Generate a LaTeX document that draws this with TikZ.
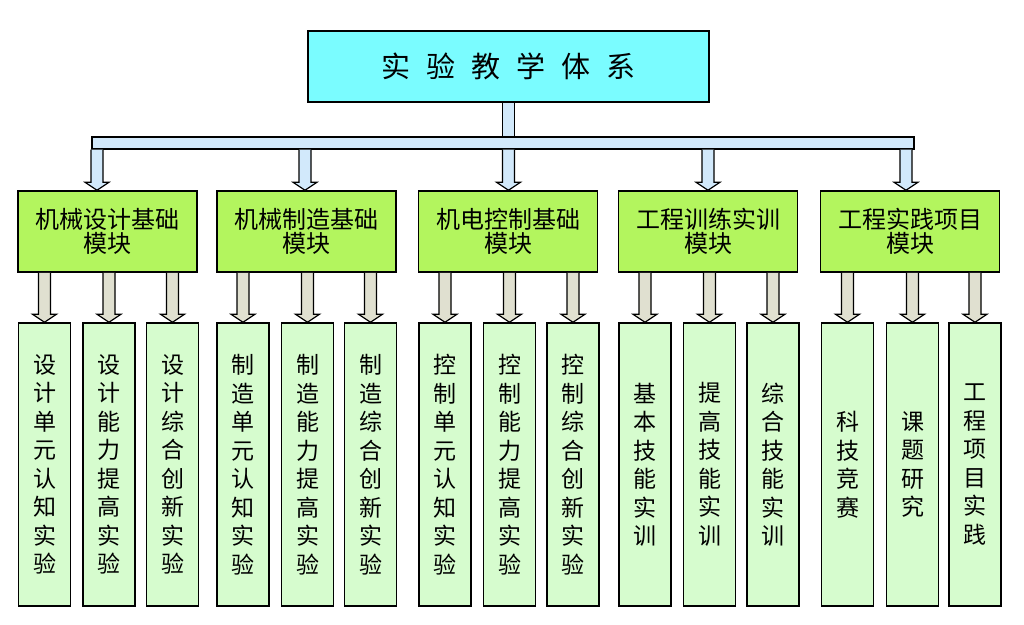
\documentclass[tikz,border=0pt]{standalone}
\usepackage{fontspec}
\setmainfont{Noto Sans CJK SC}
\usetikzlibrary{calc}
\definecolor{titlefill}{RGB}{122,252,255}
\definecolor{modfill}{RGB}{179,245,94}
\definecolor{leaffill}{RGB}{214,252,206}
\definecolor{barfill}{RGB}{210,233,251}
\definecolor{arrfill}{RGB}{224,224,208}
\newcommand\blockarr[3]{%
  \draw[blockarrow, fill=#3] let \p1=(#1), \p2=(#2) in
    (\x1-6pt,\y1) -- (\x1-6pt,\y2+8pt) -- (\x1-12pt,\y2+8pt) -- (\x1,\y2)
    -- (\x1+12pt,\y2+8pt) -- (\x1+6pt,\y2+8pt) -- (\x1+6pt,\y1);}
\tikzset{
  box/.style={draw=black, line width=1.5pt, rectangle, inner sep=0pt, align=center},
  titlebox/.style={box, fill=titlefill, minimum width=401pt, minimum height=71pt,
    font=\fontsize{29}{29}\selectfont},
  modbox/.style={box, fill=modfill, minimum width=179pt, minimum height=81pt,
    font=\fontsize{24}{24}\selectfont},
  leafbox/.style={box, fill=leaffill, minimum width=52pt, minimum height=283pt,
    font=\fontsize{23}{28.5}\selectfont},
  barbox/.style={draw=black, line width=1.3pt, fill=barfill, rectangle, inner sep=0pt,
    minimum width=822pt, minimum height=12pt},
  blockarrow/.style={draw=black, line width=1.2pt, line join=miter},
}
\begin{document}
\begin{tikzpicture}[x=1pt,y=-1pt]
\useasboundingbox (0,0) rectangle (1024,624);

% title and bar
\node[titlebox] (top) at (508.5,66.5) {实\hspace{16pt}验\hspace{16pt}教\hspace{16pt}学\hspace{16pt}体\hspace{16pt}系};
\node[barbox] (bar) at (503,143) {};
\draw[blockarrow, fill=barfill] ($(top.south)+(-6pt,0)$) rectangle ($(top.south |- bar.north)+(6pt,0)$);

% modules
\node[modbox] (mod1) at (107.5,231.5) {机械设计基础\\模块};
\node[modbox] (mod2) at (306.5,231.5) {机械制造基础\\模块};
\node[modbox] (mod3) at (508,231.5) {机电控制基础\\模块};
\node[modbox] (mod4) at (708,231.5) {工程训练实训\\模块};
\node[modbox] (mod5) at (910,231.5) {工程实践项目\\模块};

% drop points
\coordinate (d1) at (97,0);
\coordinate (d2) at (305,0);
\coordinate (d3) at (508.5,0);
\coordinate (d4) at (708,0);
\coordinate (d5) at (906,0);
\foreach \i in {1,...,5}{
  \blockarr{d\i |- bar.south}{d\i |- mod\i.north}{barfill}
}

% leaves
\node[leafbox] (leaf1) at (44.5,464.5) {设\\计\\单\\元\\认\\知\\实\\验};
\node[leafbox] (leaf2) at (109,464.5) {设\\计\\能\\力\\提\\高\\实\\验};
\node[leafbox] (leaf3) at (172.5,464.5) {设\\计\\综\\合\\创\\新\\实\\验};
\node[leafbox] (leaf4) at (243,464.5) {制\\造\\单\\元\\认\\知\\实\\验};
\node[leafbox] (leaf5) at (307.5,464.5) {制\\造\\能\\力\\提\\高\\实\\验};
\node[leafbox] (leaf6) at (370.5,464.5) {制\\造\\综\\合\\创\\新\\实\\验};
\node[leafbox] (leaf7) at (445,464.5) {控\\制\\单\\元\\认\\知\\实\\验};
\node[leafbox] (leaf8) at (509.5,464.5) {控\\制\\能\\力\\提\\高\\实\\验};
\node[leafbox] (leaf9) at (573,464.5) {控\\制\\综\\合\\创\\新\\实\\验};
\node[leafbox] (leaf10) at (645,464.5) {基\\本\\技\\能\\实\\训};
\node[leafbox] (leaf11) at (709.5,464.5) {提\\高\\技\\能\\实\\训};
\node[leafbox] (leaf12) at (773,464.5) {综\\合\\技\\能\\实\\训};
\node[leafbox] (leaf13) at (847.5,464.5) {科\\技\\竞\\赛};
\node[leafbox] (leaf14) at (912.5,464.5) {课\\题\\研\\究};
\node[leafbox] (leaf15) at (975,464.5) {工\\程\\项\\目\\实\\践};

% leaf arrows
\foreach \m/\l in {1/1,1/2,1/3,2/4,2/5,2/6,3/7,3/8,3/9,4/10,4/11,4/12,5/13,5/14,5/15}{
  \blockarr{leaf\l.north |- mod\m.south}{leaf\l.north}{arrfill}
}
\end{tikzpicture}
\end{document}
